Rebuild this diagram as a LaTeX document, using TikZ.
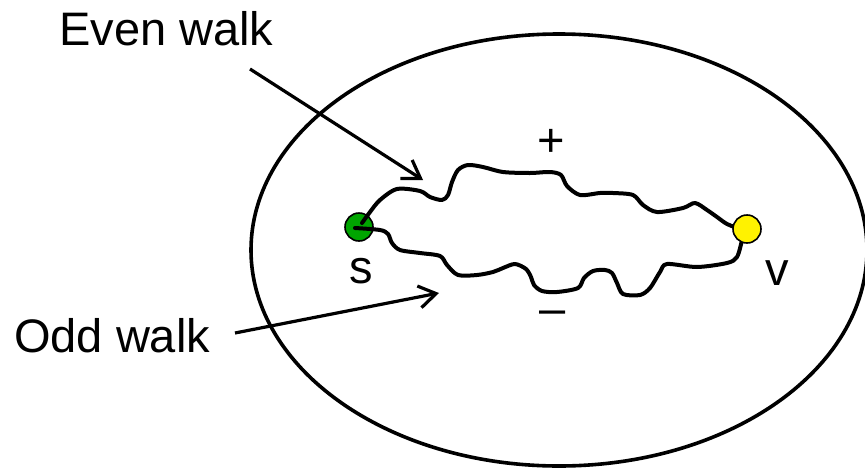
\documentclass[tikz,border=0pt]{standalone}
\usepackage{fontspec}
\setmainfont{Liberation Sans}
\usetikzlibrary{arrows.meta}
\begin{document}
\begin{tikzpicture}[x=1pt,y=-1pt,
  lbl/.style={font=\fontsize{47}{50}\selectfont, inner sep=0pt},
  walk/.style={line width=4pt, line join=round, line cap=round},
  pointer/.style={line width=3.2pt, -{Straight Barb[length=17pt,width=22pt,line width=3.2pt]}},
  vertex/.style={circle, draw=black, line width=1.6pt, minimum size=28pt, inner sep=0pt}]
\useasboundingbox (0,0) rectangle (865,469);
\fill[white] (0,0) rectangle (865,469);
% region
\draw[line width=3.6pt] (559,250) ellipse [x radius=308, y radius=216];
% vertex s
\node[vertex, fill={rgb,255:red,0;green,165;blue,0}] (s) at (359,227) {};
% walks
\draw[walk] plot[smooth, tension=0.5] coordinates {(362,223) (370,212) (380,200) (397,189) (420,191) (430,197) (442,200) (448,195) (452,182) (458,170) (468,165) (483,167) (503,172) (530,173) (550,172) (561,175) (567,186) (580,195) (600,193) (613,193) (633,195) (643,205) (657,212) (683,208) (695,203) (707,210) (717,217) (727,224) (740,229)};
\draw[walk] plot[smooth, tension=0.5] coordinates {(355,228) (380,230) (388,234) (392,243) (400,250) (420,253) (440,256) (447,265) (458,275) (477,275) (493,272) (503,268) (515,264) (526,269) (531,277) (534,285) (542,291) (557,292) (578,288) (584,278) (593,271) (605,270) (612,273) (617,283) (623,294) (640,295) (650,288) (660,272) (667,264) (697,267) (727,263) (737,257) (742,240)};
% vertex v
\node[vertex, fill=yellow] (v) at (747,229) {};
% labels
\node[lbl, anchor=base] (slbl) at (361,283) {s};
\node[lbl, anchor=base] (vlbl) at (777,285) {v};
\node[lbl, anchor=base] (plus) at (551,156) {+};
\node[lbl, anchor=base] (minus) at (553,324) {–};
\node[lbl, anchor=base west] (even) at (59,45) {Even walk};
\node[lbl, anchor=base west] (odd) at (14,352) {Odd walk};
% pointers
\coordinate (evenstart) at (250,69);
\coordinate (eventip) at (423,180);
\coordinate (oddstart) at (235,333);
\coordinate (oddtip) at (439,293);
\draw[pointer] (evenstart) -- (eventip);
\draw[pointer] (oddstart) -- (oddtip);
\end{tikzpicture}
\end{document}
